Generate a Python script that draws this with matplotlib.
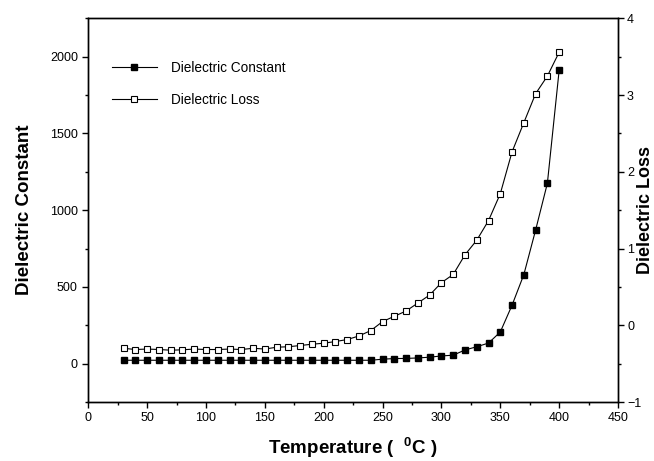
import matplotlib
matplotlib.use("Agg")
import matplotlib.pyplot as plt
from matplotlib.ticker import MultipleLocator

plt.rcParams['font.family'] = ['Liberation Sans', 'DejaVu Sans']
plt.rcParams['mathtext.fontset'] = 'custom'
plt.rcParams['mathtext.rm'] = 'Liberation Sans'
plt.rcParams['mathtext.bf'] = 'Liberation Sans:bold'

temperature = [30, 40, 50, 60, 70, 80, 90, 100, 110, 120, 130, 140, 150, 160, 170,
               180, 190, 200, 210, 220, 230, 240, 250, 260, 270, 280, 290, 300, 310,
               320, 330, 340, 350, 360, 370, 380, 390, 400]

dielectric_constant = [22, 22, 22, 22, 22, 22, 22, 22, 22, 22, 22, 22, 22, 22, 22,
                       22, 22, 22, 22, 22, 22, 22, 29, 33, 34, 37, 42, 50, 55,
                       89, 110, 134, 206, 381, 580, 870, 1175, 1911]

dielectric_loss = [-0.30, -0.316, -0.31, -0.316, -0.325, -0.32, -0.31, -0.316, -0.316,
                   -0.31, -0.316, -0.30, -0.31, -0.286, -0.28, -0.264, -0.247, -0.234,
                   -0.212, -0.186, -0.139, -0.069, 0.048, 0.117, 0.186, 0.29, 0.394,
                   0.555, 0.662, 0.918, 1.108, 1.364, 1.714, 2.26, 2.64, 3.017, 3.247,
                   3.558]

W, H = 654, 461
fig = plt.figure(figsize=(W / 100, H / 100), dpi=100)
ax = fig.add_axes([88.3 / W, 1 - 402 / H, (618 - 88.3) / W, (402 - 18.3) / H])
ax2 = ax.twinx()

l1, = ax.plot(temperature, dielectric_constant, color='black', lw=0.8,
              marker='s', markersize=5, markerfacecolor='black',
              markeredgecolor='black', label='Dielectric Constant')
l2, = ax2.plot(temperature, dielectric_loss, color='black', lw=0.8,
               marker='s', markersize=5, markerfacecolor='white',
               markeredgecolor='black', markeredgewidth=0.8, label='Dielectric Loss')

ax.set_xlim(0, 450)
ax.set_ylim(-250, 2250)
ax2.set_ylim(-1, 4)

ax.xaxis.set_major_locator(MultipleLocator(50))
ax.xaxis.set_minor_locator(MultipleLocator(25))
ax.yaxis.set_major_locator(MultipleLocator(500))
ax.yaxis.set_minor_locator(MultipleLocator(250))
ax2.yaxis.set_major_locator(MultipleLocator(1))
ax2.yaxis.set_minor_locator(MultipleLocator(0.5))

for a in (ax, ax2):
    for s in a.spines.values():
        s.set_linewidth(1.0)
ax.tick_params(which='major', direction='out', length=4, width=1, labelsize=9)
ax.tick_params(which='minor', direction='out', length=2.5, width=1)
ax.tick_params(axis='x', top=False, which='both')
ax.tick_params(axis='y', right=False, which='both')
ax2.tick_params(which='major', direction='out', length=4, width=1, labelsize=9,
                pad=2.5)
ax2.tick_params(which='minor', direction='out', length=2.5, width=1)

ax.set_ylabel('Dielectric Constant', fontsize=13.5, fontweight='bold', labelpad=12)
ax2.set_ylabel('Dielectric Loss', fontsize=13, fontweight='bold')
ax2.yaxis.set_label_coords((637 - 88.3) / (618 - 88.3), 0.5)
ax.set_xlabel(r'Temperature (  $^{\mathbf{0}}$C )', fontsize=13.5,
              fontweight='bold', labelpad=8)

fig.legend(handles=[l1, l2], loc='upper left',
           bbox_to_anchor=(112 / W, 1 - 61 / H), frameon=False,
           fontsize=9.8, handlelength=3.3, handletextpad=1.0,
           labelspacing=1.3, borderpad=0, borderaxespad=0)

fig.savefig('out.png', dpi=100)
